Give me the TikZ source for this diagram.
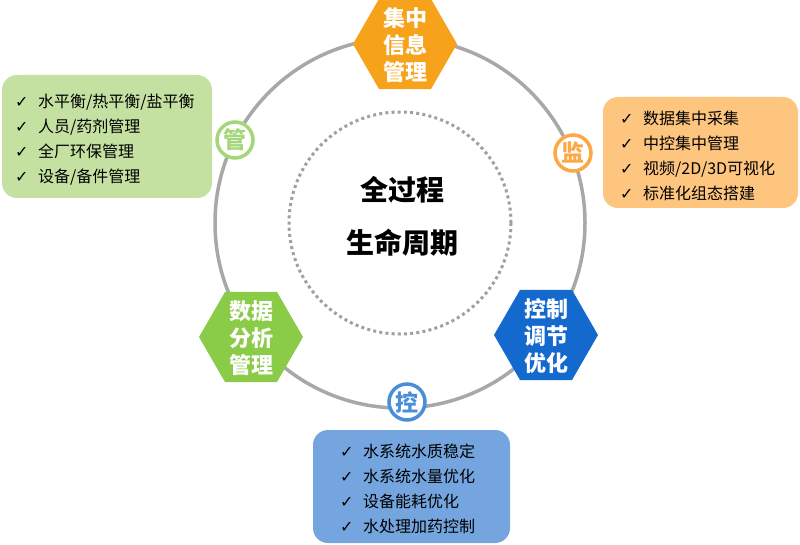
\documentclass[tikz,border=0pt]{standalone}
\usepackage{fontspec}
\setmainfont{Noto Sans CJK SC}
\newfontfamily\symf{DejaVu Sans}
\usetikzlibrary{shapes.geometric}
\definecolor{ringgray}{HTML}{A8A8A8}
\definecolor{dotgray}{HTML}{A0A0A0}
\definecolor{hexorange}{HTML}{F7A21B}
\definecolor{hexgreen}{HTML}{8ACB48}
\definecolor{hexblue}{HTML}{1469CF}
\definecolor{boxgreen}{HTML}{C5E1A2}
\definecolor{boxorange}{HTML}{FEC57F}
\definecolor{boxblue}{HTML}{74A5DF}
\definecolor{cgreen}{HTML}{A5D77A}
\definecolor{corange}{HTML}{FCA845}
\definecolor{cblue}{HTML}{4A8ED8}
\newcommand{\ck}{\makebox[23pt][l]{{\symf\fontsize{16}{16}\selectfont ✓}}}
\tikzset{
  hexshape/.style={regular polygon, regular polygon sides=6, minimum size=104pt, inner sep=0pt, draw=none},
  hextext/.style={text=white, align=center, font=\bfseries\fontsize{22}{27}\selectfont, inner sep=0pt},
  roundbox/.style={rounded corners=15pt, draw=none, inner sep=0pt},
  listtext/.style={anchor=west, align=left, font=\fontsize{16}{25}\selectfont, inner sep=0pt, text=black},
  smallring/.style={circle, minimum size=36pt, inner sep=0pt, line width=3.5pt, fill=white, font=\bfseries\fontsize{23}{23}\selectfont},
}
\begin{document}
\begin{tikzpicture}[x=1pt,y=-1pt]
\useasboundingbox (0,0) rectangle (800,545);
\fill[white] (0,0) rectangle (800,545);
% text boxes
\node[roundbox, fill=boxgreen, minimum width=210pt, minimum height=123pt] (gbox) at (107,136.5) {};
\node[roundbox, fill=boxorange, minimum width=195pt, minimum height=111pt] (obox) at (700.5,152.5) {};
\node[roundbox, fill=boxblue, minimum width=197pt, minimum height=113pt] (bbox) at (411.5,486.5) {};
\node[listtext] (gtext) at (15,139.5) {\ck 水平衡/热平衡/盐平衡\\ \ck 人员/药剂管理\\ \ck 全厂环保管理\\ \ck 设备/备件管理};
\node[listtext] (otext) at (620,156) {\ck 数据集中采集\\ \ck 中控集中管理\\ \ck 视频/2D/3D可视化\\ \ck 标准化组态搭建};
\node[listtext] (btext) at (340,488.5) {\ck 水系统水质稳定\\ \ck 水系统水量优化\\ \ck 设备能耗优化\\ \ck 水处理加药控制};
% rings
\draw[ringgray, line width=3.5pt] (400,223) circle (185);
\draw[dotgray, line width=3pt, dash pattern=on 3pt off 3.2pt] (400,223) circle (111);
% center text
\node[font=\bfseries\fontsize{28}{28}\selectfont, inner sep=0pt] (c1) at (402,190) {全过程};
\node[font=\bfseries\fontsize{28}{28}\selectfont, inner sep=0pt] (c2) at (402,243) {生命周期};
% hexagons
\node[hexshape, fill=hexorange] (htop) at (405,44) {};
\node[hextext] at ([yshift=-1.5pt]htop.center) {集中\\信息\\管理};
\node[hexshape, fill=hexgreen] (hleft) at (251,337) {};
\node[hextext] at ([yshift=-1.5pt]hleft.center) {数据\\分析\\管理};
\node[hexshape, fill=hexblue] (hright) at (546,335) {};
\node[hextext] at ([yshift=-1.5pt]hright.center) {控制\\调节\\优化};
% small circles
\node[smallring, draw=cgreen, text=cgreen] (guan) at (235,140) {管};
\node[smallring, draw=corange, text=corange] (jian) at (573,153) {监};
\node[smallring, draw=cblue, text=cblue] (kong) at (407,402) {控};
\end{tikzpicture}
\end{document}
